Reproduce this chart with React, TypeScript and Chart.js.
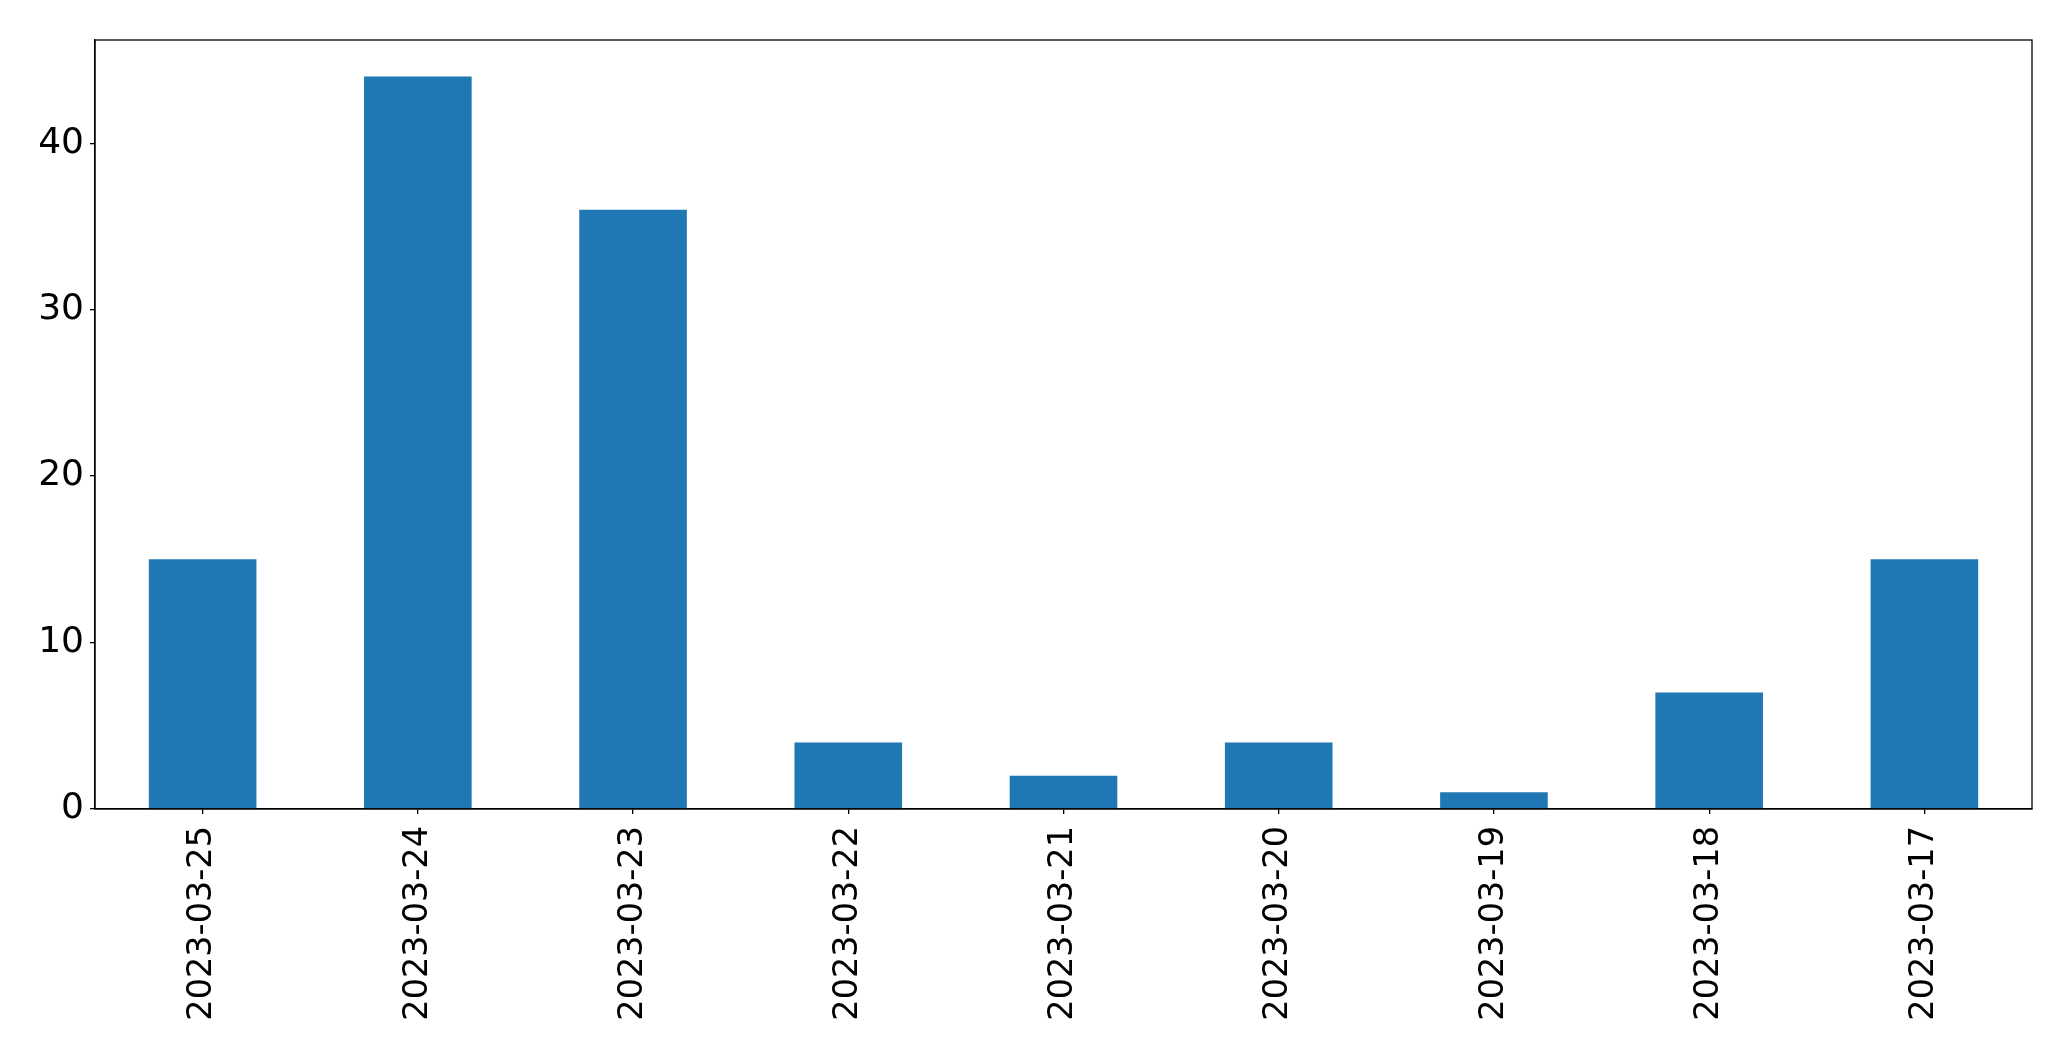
import React, { useEffect, useRef } from "react";
import { Chart, registerables } from "chart.js";

Chart.register(...registerables);

const categories = [
  "2023-03-25",
  "2023-03-24",
  "2023-03-23",
  "2023-03-22",
  "2023-03-21",
  "2023-03-20",
  "2023-03-19",
  "2023-03-18",
  "2023-03-17",
];
const values = [15, 44, 36, 4, 2, 4, 1, 7, 15];
const yTicks = [0, 10, 20, 30, 40];
const yMax = 46.2;

const W = 2071;
const H = 1061;
const FONT = "'DejaVu Sans', sans-serif";
const FSX = 33.5;
const FSY = 36;

const framePlugin = {
  id: "frame",
  afterDraw(chart: any) {
    const { ctx, chartArea } = chart;
    ctx.save();
    ctx.strokeStyle = "#000";
    ctx.lineWidth = 1.3;
    ctx.strokeRect(chartArea.left, chartArea.top, chartArea.right - chartArea.left, chartArea.bottom - chartArea.top);
    ctx.restore();
  },
};

export default function App() {
  const ref = useRef<HTMLCanvasElement | null>(null);
  useEffect(() => {
    document.body.style.margin = "0";
    const canvas = ref.current!;
    const chart = new Chart(canvas, {
      type: "bar",
      data: {
        labels: categories,
        datasets: [
          {
            data: values,
            backgroundColor: "#1f77b4",
            borderWidth: 0,
            barPercentage: 0.5,
            categoryPercentage: 1,
          },
        ],
      },
      options: {
        animation: false,
        responsive: false,
        maintainAspectRatio: false,
        layout: { padding: { top: 40, right: 39, left: 0, bottom: 0 } },
        plugins: { legend: { display: false }, tooltip: { enabled: false } },
        scales: {
          x: {
            grid: { display: true, offset: false, drawOnChartArea: false, tickLength: 5, color: "#000", lineWidth: 1.3 },
            border: { display: true, color: "#000", width: 1.3 },
            ticks: {
              color: "#000",
              font: { family: FONT, size: FSX },
              minRotation: 90,
              maxRotation: 90,
              autoSkip: false,
              padding: 12,
            },
            afterFit(scale: any) {
              scale.height = 252;
            },
          },
          y: {
            min: 0,
            max: yMax,
            grid: { display: true, drawOnChartArea: false, tickLength: 5, color: "#000", lineWidth: 1.3 },
            border: { display: true, color: "#000", width: 1.3 },
            ticks: {
              color: "#000",
              font: { family: FONT, size: FSY },
              padding: 6,
            },
            afterBuildTicks(scale: any) {
              scale.ticks = yTicks.map((v) => ({ value: v }));
            },
            afterFit(scale: any) {
              scale.width = 95;
            },
          },
        },
      },
      plugins: [framePlugin],
    });
    return () => chart.destroy();
  }, []);
  return (
    <div style={{ position: "absolute", left: 0, top: 0, width: W, height: H, background: "#fff" }}>
      <canvas ref={ref} width={W} height={H} style={{ width: W, height: H, display: "block" }} />
    </div>
  );
}
